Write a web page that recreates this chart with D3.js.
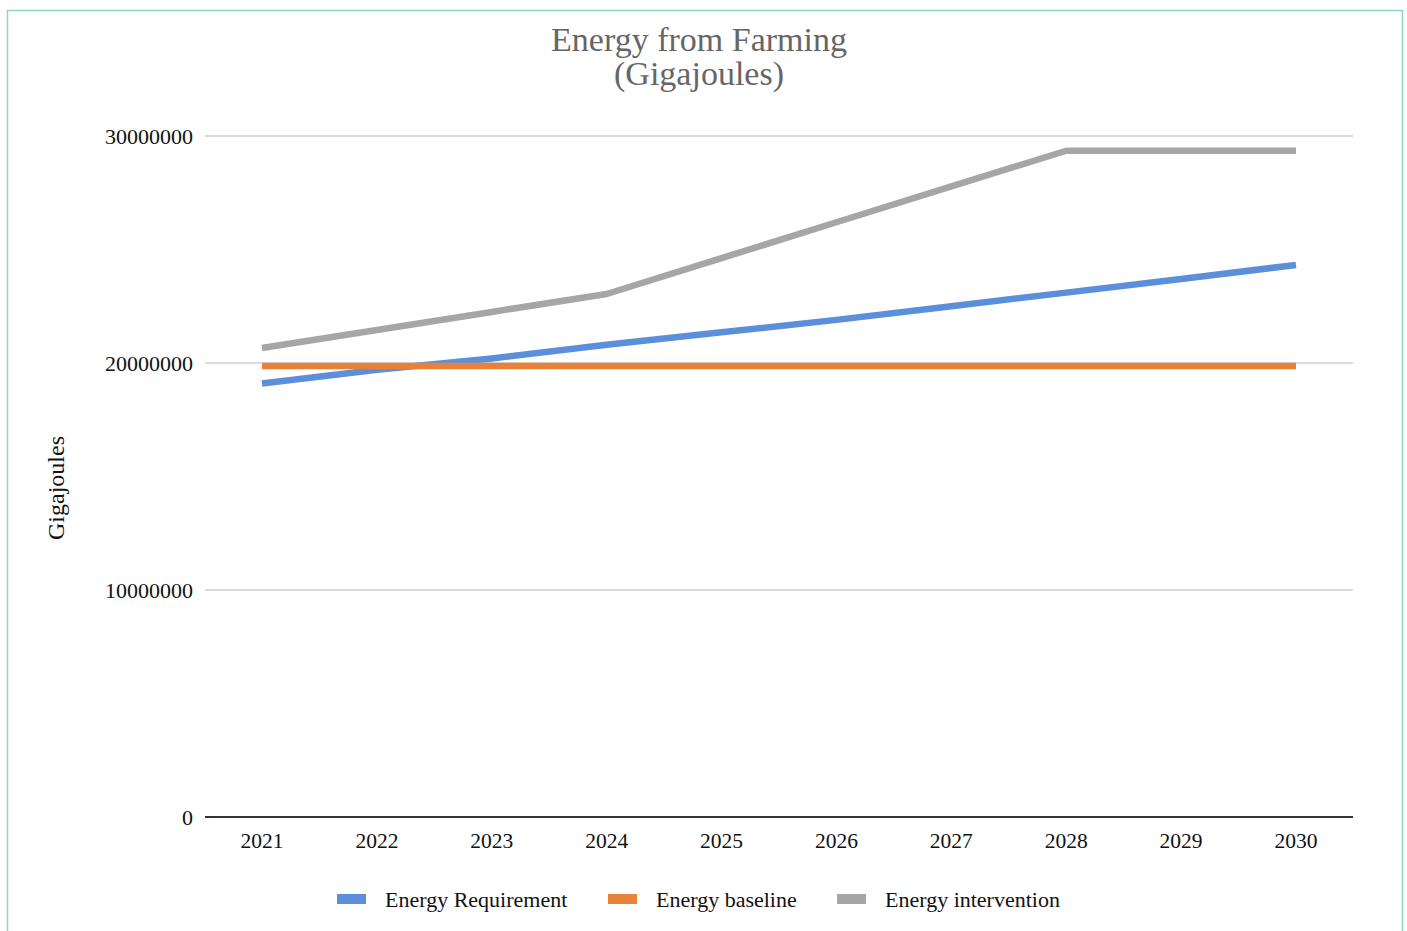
<!DOCTYPE html>
<html lang="en">
<head>
  <meta charset="UTF-8">
  <title>Energy from Farming</title>
  <style>
    body {
      margin: 0;
      background: #fff;
      font-family: "Liberation Serif", "Times New Roman", serif;
    }
    svg { display: block; }
  </style>
</head>
<body>
  <script src="https://d3js.org/d3.v7.min.js"></script>
  <script>
    const years = ['2021', '2022', '2023', '2024', '2025', '2026', '2027', '2028', '2029', '2030'];
    const requirement = [19100000, 19700000, 20200000, 20800000, 21350000, 21900000, 22500000, 23100000, 23700000, 24320000];
    const baseline = [19870000, 19870000, 19870000, 19870000, 19870000, 19870000, 19870000, 19870000, 19870000, 19870000];
    const intervention = [20660000, 21450000, 22250000, 23040000, 24620000, 26200000, 27780000, 29350000, 29350000, 29350000];
    const yTicks = [0, 10000000, 20000000, 30000000];

    const seriesNames = ['Energy Requirement', 'Energy baseline', 'Energy intervention'];
    const seriesColors = ['#5b8fd9', '#e8823a', '#a6a6a6'];
    const seriesData = [requirement, baseline, intervention];

    const width = 1407, height = 931;
    const svg = d3.select('body').append('svg')
      .attr('width', width)
      .attr('height', height);

    // frame
    svg.append('rect')
      .attr('x', 7.5).attr('y', 10.5)
      .attr('width', 1395).attr('height', 940)
      .attr('fill', 'none')
      .attr('stroke', '#8fd3c6')
      .attr('stroke-width', 1.5);

    const x = d3.scalePoint().domain(years).range([262, 1296]);
    const y = d3.scaleLinear().domain([0, 30000000]).range([817, 136]);

    // gridlines
    svg.selectAll('line.grid')
      .data(yTicks.filter(d => d > 0))
      .enter().append('line')
        .attr('class', 'grid')
        .attr('x1', 205).attr('x2', 1353)
        .attr('y1', d => y(d)).attr('y2', d => y(d))
        .attr('stroke', '#cfcfcf')
        .attr('stroke-width', 1.5);

    // baseline axis
    svg.append('line')
      .attr('x1', 205).attr('x2', 1353)
      .attr('y1', y(0)).attr('y2', y(0))
      .attr('stroke', '#333')
      .attr('stroke-width', 2);

    // y tick labels
    svg.selectAll('text.ytick')
      .data(yTicks)
      .enter().append('text')
        .attr('class', 'ytick')
        .attr('x', 193)
        .attr('y', d => y(d))
        .attr('dy', '0.35em')
        .attr('text-anchor', 'end')
        .attr('fill', '#111')
        .style('font-size', '22px')
        .text(d => d);

    // x tick labels
    svg.selectAll('text.xtick')
      .data(years)
      .enter().append('text')
        .attr('class', 'xtick')
        .attr('x', d => x(d))
        .attr('y', 848)
        .attr('text-anchor', 'middle')
        .attr('fill', '#111')
        .style('font-size', '21.5px')
        .text(d => d);

    // y axis title
    svg.append('text')
      .attr('transform', 'translate(64,488) rotate(-90)')
      .attr('text-anchor', 'middle')
      .attr('fill', '#111')
      .style('font-size', '24px')
      .text('Gigajoules');

    // title
    const title = svg.append('text')
      .attr('text-anchor', 'middle')
      .attr('fill', '#666')
      .style('font-size', '34px');
    title.append('tspan').attr('x', 699).attr('y', 51).text('Energy from Farming');
    title.append('tspan').attr('x', 699).attr('y', 85).text('(Gigajoules)');

    // lines
    const line = d3.line()
      .x((d, i) => x(years[i]))
      .y(d => y(d));

    svg.selectAll('path.series')
      .data(seriesData)
      .enter().append('path')
        .attr('class', 'series')
        .attr('d', d => line(d))
        .attr('fill', 'none')
        .attr('stroke', (d, i) => seriesColors[i])
        .attr('stroke-width', 6.5)
        .attr('stroke-linejoin', 'round');

    // legend
    const legendX = [337, 608, 837];
    const legend = svg.selectAll('g.legend')
      .data(seriesNames)
      .enter().append('g')
        .attr('class', 'legend')
        .attr('transform', (d, i) => `translate(${legendX[i]},899)`);
    legend.append('rect')
      .attr('x', 0).attr('y', -5)
      .attr('width', 29).attr('height', 10)
      .attr('fill', (d, i) => seriesColors[i]);
    legend.append('text')
      .attr('x', 48)
      .attr('dy', '0.35em')
      .attr('fill', '#111')
      .style('font-size', '22px')
      .text(d => d);
  </script>
</body>
</html>
